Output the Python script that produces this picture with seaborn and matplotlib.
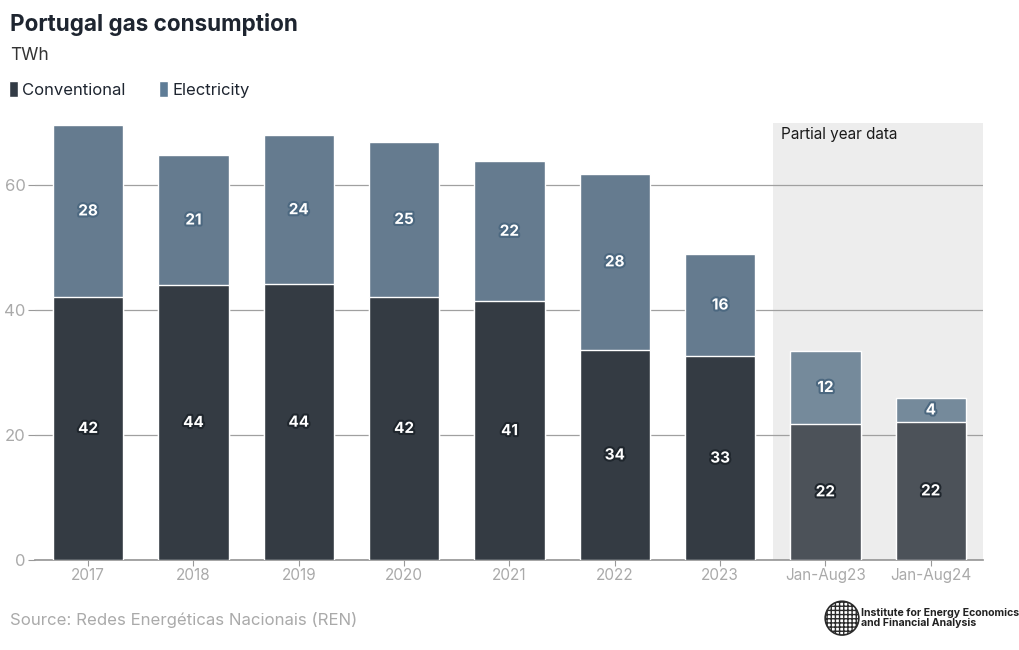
import numpy as np
import pandas as pd
import seaborn as sns
import matplotlib.pyplot as plt
import matplotlib.patheffects as pe
from matplotlib.patches import Patch, Ellipse

# data (TWh)
periods = ['2017', '2018', '2019', '2020', '2021', '2022', '2023', 'Jan-Aug23', 'Jan-Aug24']
conventional = [42.1, 44.0, 44.1, 42.1, 41.4, 33.6, 32.6, 21.8, 22.1]
electricity = [27.5, 20.8, 23.9, 24.8, 22.4, 28.2, 16.4, 11.6, 3.8]
partial = [False] * 7 + [True] * 2

conv_color = '#323b45'
elec_color = '#5e7c96'
conv_partial = '#4a525b'
elec_partial = '#6f8aa1'

df = pd.DataFrame({'period': periods, 'conventional': conventional,
                   'electricity': electricity, 'partial': partial})
df['total'] = df['conventional'] + df['electricity']

sns.set_theme(style='white')
plt.rcParams['font.family'] = ['Inter', 'DejaVu Sans']

fig = plt.figure(figsize=(10.2, 6.5), dpi=100)
ax = fig.add_axes([0.0348, 0.1385, 0.9294, 0.673])

# shaded partial-year area
first_partial = df.index[df['partial']].min()
ax.axvspan(first_partial - 0.5, len(df) - 0.5, color='#ededed', zorder=0, lw=0)
ax.text(first_partial - 0.42, 69.3, 'Partial year data', fontsize=11, color='#1a1a1a',
        va='top', ha='left')

elec_pal = [elec_partial if p else elec_color for p in df['partial']]
conv_pal = [conv_partial if p else conv_color for p in df['partial']]

# totals first (electricity on top), then conventional over it
sns.barplot(data=df, x='period', y='total', hue='period', palette=elec_pal,
            legend=False, width=0.67, edgecolor='white', linewidth=1, ax=ax, zorder=2)
sns.barplot(data=df, x='period', y='conventional', hue='period', palette=conv_pal,
            legend=False, width=0.67, edgecolor='white', linewidth=1, ax=ax, zorder=3)

halo = [pe.withStroke(linewidth=3, foreground='#1f262d')]
for i, row in df.iterrows():
    ax.text(i, row['conventional'] / 2, f"{row['conventional']:.0f}", ha='center', va='center',
            color='white', fontsize=11, fontweight='bold', path_effects=halo, zorder=5)
    ax.text(i, row['conventional'] + row['electricity'] / 2, f"{row['electricity']:.0f}",
            ha='center', va='center', color='white', fontsize=11, fontweight='bold',
            path_effects=[pe.withStroke(linewidth=3, foreground='#4c6880')], zorder=5)

ax.set_ylim(0, 70)
ax.set_xlim(-0.5, len(df) - 0.5)
ax.set_yticks([0, 20, 40, 60])
ax.yaxis.grid(True, color='#a0a0a0', linewidth=0.9, zorder=1)
ax.set_axisbelow(True)
ax.set_xlabel('')
ax.set_ylabel('')
for side in ['left', 'right', 'top']:
    ax.spines[side].set_visible(False)
ax.spines['bottom'].set_color('#999999')
ax.tick_params(axis='x', colors='#999999', labelcolor='#aaaaaa', labelsize=11,
               length=4, width=0.8, bottom=True, pad=2)
ax.tick_params(axis='y', colors='#999999', labelcolor='#aaaaaa', labelsize=12,
               length=5, width=0.8, left=True, pad=2)

# titles
fig.text(0.01, 0.962, 'Portugal gas consumption', fontsize=16.2, fontweight='bold',
         color='#1e2530', va='center')
fig.text(0.01, 0.915, 'TWh', fontsize=12.5, color='#333333', va='center')

handles = [Patch(facecolor=conv_color, label='Conventional'),
           Patch(facecolor=elec_color, label='Electricity')]
fig.legend(handles=handles, loc='center left', bbox_to_anchor=(-0.006, 0.862), ncol=2,
           frameon=False, fontsize=12, handlelength=0.55, handleheight=1.1,
           handletextpad=0.25, columnspacing=2.0, labelcolor='#1e2530')

# source and logo
fig.text(0.01, 0.046, 'Source: Redes Energéticas Nacionais (REN)', fontsize=12.1,
         color='#aaaaaa', va='center')
fig.patches.append(Ellipse((0.8255, 0.049), 0.033, 0.052, transform=fig.transFigure,
                           facecolor='white', edgecolor='#2a2a2a', hatch='++++', lw=1.2))
fig.text(0.8445, 0.049, 'Institute for Energy Economics\nand Financial Analysis', fontsize=7.6,
         fontweight='bold', color='#222222', va='center', linespacing=1.0)

fig.savefig('out.png', dpi=100)
